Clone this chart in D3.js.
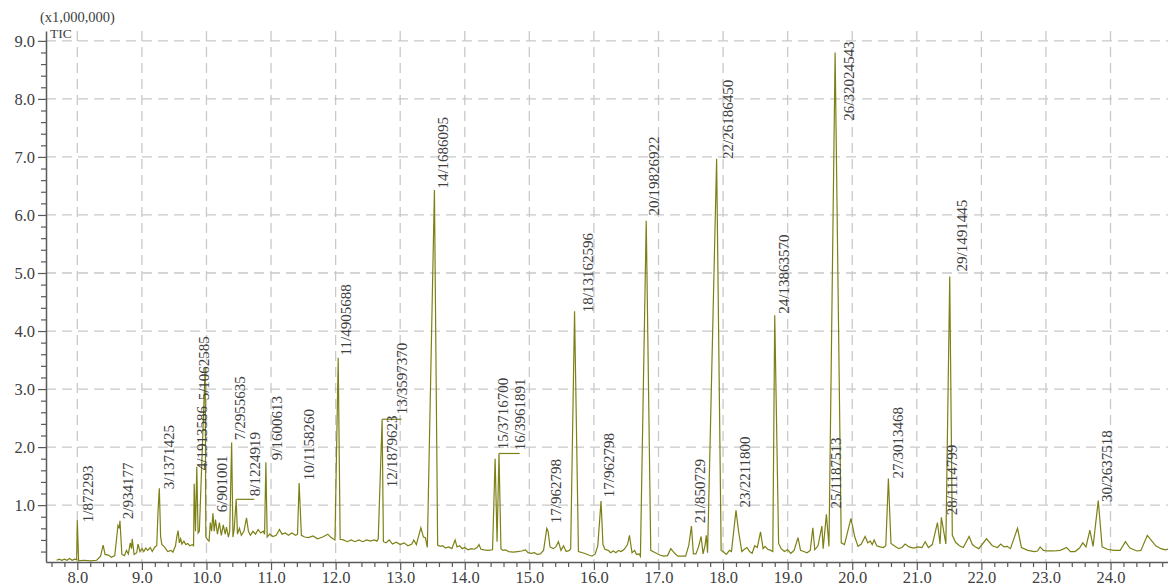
<!DOCTYPE html>
<html>
<head>
<meta charset="utf-8">
<script src="https://cdn.jsdelivr.net/npm/d3@7"></script>
<style>
  html, body { margin: 0; padding: 0; background: #ffffff; }
  svg { display: block; }
  text { font-family: "Liberation Serif", "DejaVu Serif", serif; }
</style>
</head>
<body>
<svg id="chart" width="1168" height="587"></svg>
<script>
// ---------- data (retention time in min, intensity in x1,000,000) ----------
const times = [
  7.68,7.72,7.76,7.80,7.84,7.88,7.92,7.96,7.99,8.00,8.02,8.10,8.20,8.30,8.36,8.40,8.43,8.48,8.53,8.58,
  8.62,8.63,8.65,8.66,8.69,8.73,8.76,8.79,8.82,8.84,8.85,8.88,8.92,8.94,8.97,9.00,9.03,9.06,9.09,9.13,
  9.16,9.20,9.23,9.25,9.27,9.29,9.31,9.35,9.40,9.45,9.48,9.52,9.54,9.56,9.58,9.60,9.62,9.65,9.68,9.71,
  9.74,9.78,9.80,9.81,9.83,9.85,9.87,9.89,9.98,9.99,10.02,10.04,10.06,10.08,10.10,10.12,10.14,10.17,10.20,10.23,
  10.26,10.29,10.31,10.34,10.36,10.39,10.41,10.43,10.46,10.48,10.51,10.54,10.58,10.62,10.65,10.68,10.72,10.76,10.80,10.84,
  10.88,10.90,10.92,10.94,10.98,11.03,11.08,11.13,11.17,11.22,11.27,11.32,11.38,11.41,11.435,11.47,11.52,11.58,11.65,11.72,
  11.80,11.88,11.92,11.96,11.99,12.04,12.07,12.12,12.18,12.24,12.30,12.36,12.42,12.48,12.54,12.60,12.64,12.66,12.72,12.74,
  12.78,12.83,12.88,12.94,13.00,13.06,13.12,13.18,13.21,13.25,13.32,13.36,13.39,13.42,13.53,13.58,13.62,13.66,13.70,13.75,
  13.80,13.85,13.88,13.92,13.96,14.00,14.05,14.10,14.15,14.19,14.22,14.25,14.30,14.36,14.43,14.47,14.50,14.53,14.56,14.59,
  14.63,14.68,14.75,14.82,14.88,14.94,14.98,15.03,15.08,15.12,15.17,15.22,15.27,15.29,15.32,15.37,15.41,15.45,15.49,15.53,
  15.57,15.62,15.64,15.70,15.76,15.85,15.92,15.97,16.02,16.06,16.11,16.14,16.17,16.22,16.26,16.30,16.34,16.38,16.42,16.47,
  16.52,16.55,16.59,16.63,16.66,16.70,16.72,16.81,16.88,16.95,17.02,17.08,17.14,17.19,17.25,17.30,17.36,17.42,17.47,17.51,
  17.54,17.58,17.62,17.66,17.69,17.72,17.74,17.76,17.90,17.97,18.00,18.05,18.10,18.13,18.20,18.24,18.29,18.33,18.37,18.41,
  18.45,18.49,18.53,18.58,18.62,18.65,18.69,18.74,18.77,18.80,18.86,18.90,18.95,19.00,19.05,19.10,19.16,19.20,19.25,19.30,
  19.35,19.39,19.42,19.47,19.53,19.55,19.60,19.64,19.735,19.83,19.88,19.98,20.04,20.09,20.14,20.20,20.24,20.28,20.31,20.34,
  20.38,20.43,20.48,20.52,20.56,20.60,20.65,20.72,20.77,20.82,20.88,20.95,21.02,21.08,21.13,21.18,21.24,21.32,21.36,21.38,
  21.45,21.51,21.55,21.60,21.66,21.72,21.81,21.86,21.91,21.96,22.08,22.17,22.25,22.30,22.35,22.40,22.45,22.56,22.62,22.72,
  22.82,22.87,22.91,22.96,23.02,23.12,23.22,23.32,23.38,23.45,23.52,23.57,23.62,23.68,23.73,23.81,23.87,23.95,24.05,24.15,
  24.23,24.30,24.41,24.47,24.57,24.70,24.78,24.85,24.92
];
const intensities = [
  0.05,0.07,0.05,0.07,0.05,0.08,0.05,0.07,0.06,0.74,0.04,0.05,0.04,0.05,0.12,0.31,0.15,0.14,0.10,0.13,
  0.55,0.65,0.60,0.73,0.15,0.13,0.22,0.16,0.35,0.25,0.42,0.15,0.18,0.33,0.20,0.25,0.20,0.26,0.22,0.27,
  0.20,0.28,0.30,0.90,1.29,0.45,0.32,0.28,0.20,0.22,0.19,0.30,0.45,0.56,0.35,0.42,0.33,0.38,0.32,0.34,
  0.30,0.32,0.30,1.37,0.55,1.66,0.52,0.55,3.37,0.45,0.40,0.38,0.70,0.55,0.86,0.55,0.75,0.50,0.70,0.48,
  0.66,0.50,0.62,0.45,0.55,2.08,0.45,0.60,1.10,0.50,0.60,0.48,0.55,0.78,0.55,0.48,0.55,0.50,0.58,0.52,
  0.55,0.50,1.74,0.45,0.50,0.46,0.48,0.58,0.50,0.52,0.48,0.52,0.48,0.50,1.38,0.48,0.45,0.44,0.47,0.42,
  0.45,0.50,0.45,0.42,0.40,3.54,0.41,0.40,0.37,0.40,0.37,0.40,0.37,0.40,0.38,0.40,0.38,0.42,2.48,0.37,
  0.35,0.40,0.33,0.36,0.32,0.35,0.30,0.33,0.40,0.32,0.61,0.45,0.44,0.27,6.43,0.31,0.29,0.30,0.26,0.28,
  0.25,0.40,0.28,0.30,0.25,0.27,0.23,0.25,0.24,0.27,0.32,0.24,0.23,0.22,0.23,1.80,0.37,1.89,0.25,0.22,
  0.23,0.20,0.19,0.20,0.21,0.23,0.18,0.17,0.18,0.15,0.16,0.22,0.60,0.55,0.28,0.25,0.28,0.37,0.22,0.30,
  0.20,0.22,0.25,4.34,0.20,0.17,0.14,0.12,0.16,0.30,1.07,0.32,0.24,0.22,0.18,0.21,0.18,0.22,0.20,0.24,
  0.32,0.48,0.18,0.22,0.15,0.16,0.12,5.90,0.22,0.18,0.14,0.12,0.13,0.25,0.17,0.12,0.12,0.12,0.31,0.64,
  0.16,0.16,0.28,0.46,0.16,0.30,0.48,0.18,6.97,0.22,0.20,0.15,0.22,0.20,0.91,0.55,0.20,0.24,0.27,0.20,
  0.17,0.30,0.27,0.54,0.25,0.29,0.24,0.22,0.20,4.27,0.34,0.25,0.20,0.23,0.17,0.22,0.44,0.22,0.20,0.18,
  0.22,0.61,0.23,0.30,0.64,0.25,0.84,0.29,8.80,0.35,0.32,0.77,0.45,0.29,0.33,0.46,0.35,0.38,0.32,0.40,
  0.30,0.28,0.27,0.30,1.46,0.34,0.30,0.25,0.27,0.33,0.28,0.26,0.28,0.27,0.37,0.27,0.32,0.70,0.33,0.79,
  0.33,4.94,0.48,0.36,0.30,0.27,0.46,0.32,0.28,0.25,0.42,0.30,0.27,0.33,0.28,0.29,0.25,0.60,0.27,0.22,
  0.20,0.21,0.28,0.22,0.21,0.21,0.22,0.27,0.20,0.20,0.26,0.35,0.28,0.57,0.29,1.08,0.28,0.24,0.22,0.22,
  0.37,0.26,0.21,0.22,0.48,0.30,0.25,0.23,0.25
];

// peak annotations: text, label anchor time and level (baseline position of the rotated text)
const labelTexts = [
  "1/872293","2/934177","3/1371425","4/1913586","5/1062585","6/901001","7/2955635","8/1224919",
  "9/1600613","10/1158260","11/4905688","12/1879623","13/3597370","14/1686095","15/3716700","16/3961891",
  "17/962798","18/13162596","17/962798","20/19826922","21/850729","22/26186450","23/2211800","24/13863570",
  "25/1187513","26/32024543","27/3013468","28/1114799","29/1491445","30/2637518"
];
const labelTimes = [
  8.239,8.868,9.498,10.005,10.041,10.324,10.598,10.831,
  11.164,11.660,12.233,12.946,13.108,13.748,14.673,14.937,
  15.490,15.986,16.316,17.002,17.726,18.155,18.423,19.017,
  19.833,20.024,20.789,21.615,21.770,24.016
];
const labelLevels = [
  0.706,0.757,1.274,1.601,2.806,0.878,2.117,1.153,
  1.773,1.429,3.580,1.308,2.565,6.454,1.962,1.945,
  0.688,4.325,1.136,5.990,0.688,6.966,0.959,4.298,
  0.941,7.625,1.458,0.826,5.026,1.055
];
// leader lines from peak tops to moved labels
const leaderFrom = [10.46, 12.72, 14.53];
const leaderTo   = [10.74, 13.02, 14.85];
const leaderLevel = [1.10, 2.48, 1.89];

// ticks
const xMajorTicks = [8,9,10,11,12,13,14,15,16,17,18,19,20,21,22,23,24];
const yMajorTicks = [1,2,3,4,5,6,7,8,9];
const yTitle = "(x1,000,000)";
const seriesName = "TIC";

// ---------- drawing ----------
(function draw() {
  const svg = d3.select("#chart");
  const pL = 46, pR = 1168, pT = 31, pB = 562;

  const x = d3.scaleLinear().domain([7.515, 24.89]).range([pL, pR]);
  const y = d3.scaleLinear().domain([0.02, 9.17]).range([pB, pT]);

  const axisColor = "#5a5a5a";
  const textColor = "#404040";
  const lineColor = "#7d8015";
  const gridColor = "#c9c9c9";

  // grid
  const grid = svg.append("g");
  grid.selectAll("line.h").data(yMajorTicks).join("line").attr("class", "h")
    .attr("x1", pL).attr("x2", pR)
    .attr("y1", d => y(d)).attr("y2", d => y(d))
    .attr("stroke", gridColor).attr("stroke-width", 1.3).attr("stroke-dasharray", "10,6");
  grid.selectAll("line.v").data(xMajorTicks).join("line").attr("class", "v")
    .attr("x1", d => x(d)).attr("x2", d => x(d))
    .attr("y1", pT).attr("y2", pB)
    .attr("stroke", gridColor).attr("stroke-width", 1.3).attr("stroke-dasharray", "10,6");

  // minor ticks
  const xMinor = d3.range(7.6, 24.9, 0.2).map(v => +v.toFixed(1)).filter(v => Math.abs(v - Math.round(v)) > 1e-6);
  const yMinor = d3.range(0.2, 9.1, 0.2).map(v => +v.toFixed(1)).filter(v => Math.abs(v - Math.round(v)) > 1e-6);

  // x axis
  svg.append("g").attr("transform", `translate(0,${pB})`)
    .call(d3.axisBottom(x).tickValues(xMajorTicks).tickSize(8).tickSizeOuter(0).tickPadding(1)
      .tickFormat(d3.format(".1f")));
  svg.append("g").attr("transform", `translate(0,${pB})`)
    .call(d3.axisBottom(x).tickValues(xMinor).tickSize(5).tickSizeOuter(0).tickFormat(""))
    .select(".domain").remove();

  // y axis
  svg.append("g").attr("transform", `translate(${pL},0)`)
    .call(d3.axisLeft(y).tickValues(yMajorTicks).tickSize(8).tickSizeOuter(0).tickPadding(3)
      .tickFormat(d3.format(".1f")));
  svg.append("g").attr("transform", `translate(${pL},0)`)
    .call(d3.axisLeft(y).tickValues(yMinor).tickSize(5).tickSizeOuter(0).tickFormat(""))
    .select(".domain").remove();

  svg.selectAll(".domain").attr("stroke", axisColor).attr("stroke-width", 1.5);
  svg.selectAll(".tick line").attr("stroke", axisColor).attr("stroke-width", 1.2);
  svg.selectAll(".tick text").attr("fill", textColor)
    .style("font-family", '"Liberation Serif", serif').style("font-size", "16.5px");

  // axis titles
  svg.append("text").attr("x", 40).attr("y", 22).text(yTitle)
    .attr("fill", textColor).style("font-size", "14.5px");
  svg.append("text").attr("x", 50).attr("y", 38).text(seriesName)
    .attr("fill", textColor).style("font-size", "13.5px");

  // data line
  const pts = times.map((t, i) => [t, intensities[i]]);
  const line = d3.line().x(d => x(d[0])).y(d => y(d[1]));
  svg.append("path").datum(pts)
    .attr("d", line)
    .attr("fill", "none")
    .attr("stroke", lineColor)
    .attr("stroke-width", 1.2)
    .attr("stroke-linejoin", "miter");

  // leaders
  svg.selectAll("line.leader").data(leaderFrom).join("line")
    .attr("class", "leader")
    .attr("x1", d => x(d)).attr("x2", (d, i) => x(leaderTo[i]))
    .attr("y1", (d, i) => y(leaderLevel[i])).attr("y2", (d, i) => y(leaderLevel[i]))
    .attr("stroke", lineColor).attr("stroke-width", 1.2);

  // peak labels
  svg.selectAll("text.peak").data(labelTexts).join("text")
    .attr("class", "peak")
    .attr("transform", (d, i) => `translate(${x(labelTimes[i])},${y(labelLevels[i])}) rotate(-90)`)
    .attr("fill", textColor)
    .style("font-size", "15px")
    .text(d => d);
})();
</script>
</body>
</html>
